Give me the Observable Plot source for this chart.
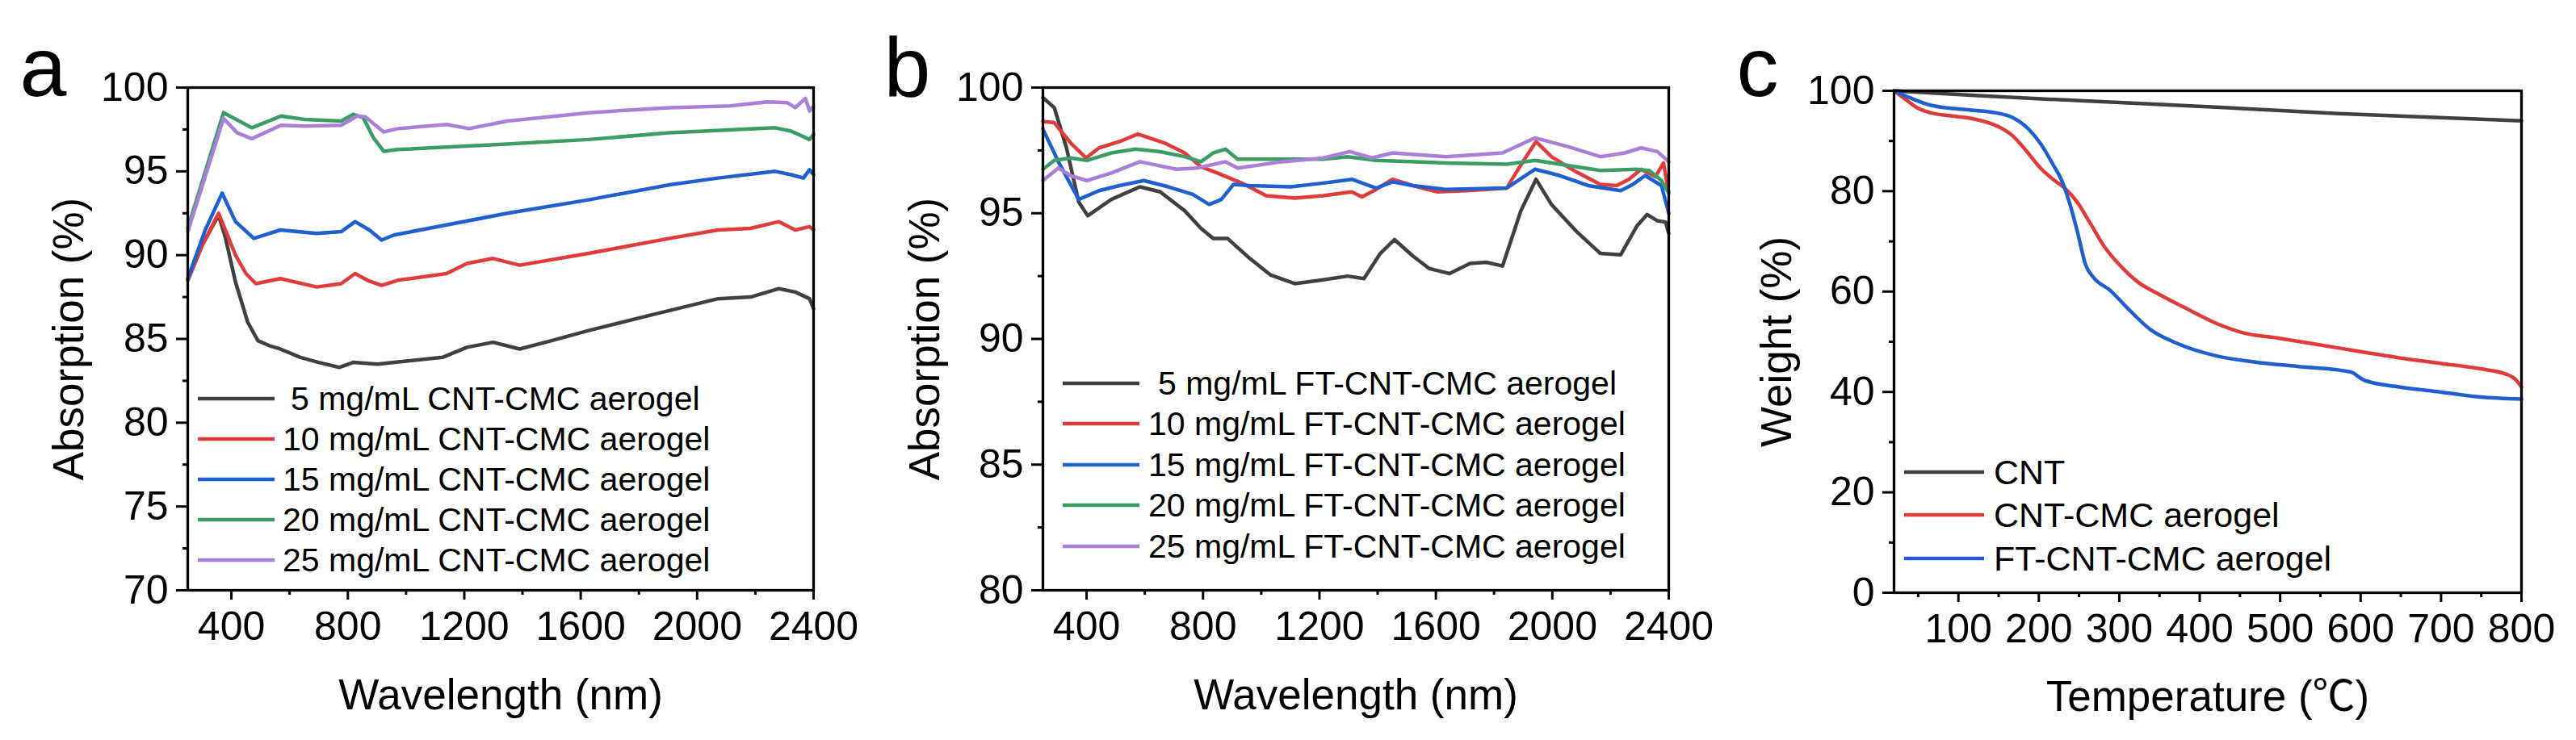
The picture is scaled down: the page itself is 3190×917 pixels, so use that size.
<!DOCTYPE html>
<html>
<head>
<meta charset="utf-8">
<script src="https://cdn.jsdelivr.net/npm/d3@7"></script>
<script src="https://cdn.jsdelivr.net/npm/@observablehq/plot@0.6"></script>
<style>
  body { margin: 0; background: #fff; overflow: hidden; }
  #figure { display: flex; width: 3190px; height: 917px; }
  #figure > svg { flex: none; max-width: none; }
</style>
</head>
<body>
<div id="figure"></div>
<script>
// panel a: CNT-CMC aerogels, [wavelength nm, absorption %]
const aNames = ['5 mg/mL CNT-CMC aerogel', '10 mg/mL CNT-CMC aerogel', '15 mg/mL CNT-CMC aerogel', '20 mg/mL CNT-CMC aerogel', '25 mg/mL CNT-CMC aerogel']
const a5 = [[250,88.5],[300,90.6],[356,92.4],[380,91.0],[414,88.4],[456,86.0],[491,84.9],[530,84.6],[568,84.4],[637,83.9],[700,83.6],[770,83.3],[818,83.6],[902,83.5],[1013,83.7],[1125,83.9],[1209,84.5],[1299,84.8],[1390,84.4],[1500,84.9],[1627,85.5],[1836,86.4],[2072,87.4],[2183,87.5],[2281,88.0],[2337,87.8],[2386,87.4],[2400,86.8]]
const a10 = [[250,88.5],[300,90.6],[356,92.5],[414,90.0],[450,88.9],[484,88.3],[568,88.6],[693,88.1],[777,88.3],[825,88.9],[867,88.5],[916,88.2],[972,88.5],[1139,88.9],[1209,89.5],[1299,89.8],[1390,89.4],[1627,90.1],[1905,91.0],[2072,91.5],[2183,91.6],[2281,92.0],[2337,91.5],[2386,91.7],[2400,91.5]]
const a15 = [[250,88.6],[310,91.5],[368,93.7],[414,92.0],[477,91.0],[568,91.5],[693,91.3],[777,91.4],[825,92.0],[874,91.5],[916,90.9],[958,91.2],[1348,92.5],[1627,93.3],[1905,94.2],[2072,94.6],[2268,95.0],[2323,94.8],[2365,94.6],[2386,95.1],[2400,94.8]]
const a20 = [[250,91.6],[373,98.5],[470,97.6],[570,98.3],[651,98.1],[777,98.0],[818,98.4],[853,98.2],[888,97.0],[923,96.2],[972,96.3],[1320,96.6],[1627,96.9],[1905,97.3],[2268,97.6],[2323,97.4],[2386,96.9],[2400,97.2]]
const a25 = [[250,91.4],[373,98.15],[420,97.3],[470,96.95],[570,97.75],[651,97.7],[777,97.75],[832,98.3],[860,98.25],[923,97.35],[972,97.55],[1139,97.8],[1216,97.55],[1348,98.0],[1627,98.5],[1905,98.8],[2114,98.9],[2240,99.15],[2309,99.1],[2337,98.8],[2372,99.35],[2386,98.6],[2400,98.9]]

// panel b: FT-CNT-CMC aerogels
const bNames = ['5 mg/mL FT-CNT-CMC aerogel', '10 mg/mL FT-CNT-CMC aerogel', '15 mg/mL FT-CNT-CMC aerogel', '20 mg/mL FT-CNT-CMC aerogel', '25 mg/mL FT-CNT-CMC aerogel']
const b5 = [[250,99.6],[289,99.2],[331,97.6],[373,95.45],[404,94.9],[485,95.55],[583,96.05],[653,95.85],[737,95.1],[793,94.4],[835,94.0],[884,94.0],[961,93.2],[1031,92.55],[1115,92.2],[1213,92.35],[1297,92.5],[1353,92.4],[1409,93.4],[1458,93.95],[1521,93.3],[1577,92.8],[1647,92.6],[1717,93.0],[1773,93.05],[1829,92.9],[1892,95.1],[1944,96.35],[1997,95.35],[2081,94.3],[2165,93.4],[2235,93.35],[2291,94.5],[2326,94.95],[2361,94.7],[2389,94.65],[2400,94.2]]
const b10 = [[250,98.65],[289,98.6],[345,97.8],[398,97.2],[443,97.6],[513,97.85],[576,98.15],[667,97.8],[737,97.4],[793,96.85],[849,96.6],[933,96.2],[1017,95.7],[1115,95.6],[1213,95.7],[1311,95.85],[1346,95.65],[1395,95.95],[1451,96.35],[1521,96.1],[1605,95.85],[1703,95.9],[1773,95.95],[1843,96.0],[1899,97.05],[1944,97.85],[1997,97.25],[2081,96.65],[2165,96.15],[2221,96.1],[2263,96.35],[2305,96.75],[2354,96.45],[2382,97.0],[2400,95.8]]
const b15 = [[250,98.35],[303,97.05],[373,95.55],[443,95.9],[513,96.1],[597,96.3],[681,96.05],[765,95.75],[821,95.35],[863,95.55],[905,96.15],[961,96.1],[1101,96.05],[1213,96.2],[1311,96.35],[1395,96.0],[1451,96.25],[1521,96.1],[1633,95.95],[1843,96.0],[1941,96.75],[2025,96.5],[2123,96.1],[2235,95.9],[2277,96.15],[2319,96.5],[2375,96.1],[2400,95.0]]
const b20 = [[250,96.75],[289,97.1],[345,97.2],[401,97.1],[485,97.4],[569,97.55],[653,97.45],[737,97.25],[793,97.05],[835,97.4],[877,97.55],[919,97.15],[1073,97.15],[1213,97.15],[1297,97.25],[1395,97.1],[1633,97.0],[1843,96.95],[1941,97.1],[2053,96.9],[2165,96.7],[2291,96.75],[2333,96.7],[2375,96.3],[2400,95.8]]
const b25 = [[250,96.3],[303,96.8],[345,96.5],[401,96.3],[485,96.6],[583,97.05],[709,96.75],[779,96.8],[877,97.05],[919,96.8],[1073,97.05],[1213,97.2],[1304,97.45],[1381,97.2],[1451,97.4],[1633,97.25],[1829,97.4],[1941,98.0],[2053,97.65],[2165,97.25],[2249,97.4],[2305,97.6],[2361,97.45],[2400,97.05]]

// panel c: TGA, [temperature C, weight %]
const cNames = ['CNT', 'CNT-CMC aerogel', 'FT-CNT-CMC aerogel']
const cCNT = [[20,100],[116,99.1],[268,97.9],[420,96.75],[572,95.45],[724,94.5],[800,94.0]]
const cCMC = [[20,100],[35,98.2],[50,96.5],[66,95.6],[91,95.0],[116,94.5],[136,93.7],[152,92.7],[167,91.1],[182,88.5],[202,84.6],[218,82.3],[233,80.5],[248,77.75],[263,73.85],[283,68.6],[304,64.7],[324,61.8],[349,59.5],[380,56.9],[420,53.7],[456,51.7],[496,50.75],[547,49.45],[597,48.1],[648,46.8],[699,45.7],[749,44.6],[780,43.6],[792,42.6],[800,41.0]]
const cFT = [[20,100],[40,98.6],[66,97.1],[91,96.5],[116,96.15],[147,95.6],[167,94.7],[187,92.4],[202,89.5],[218,85.2],[228,82.3],[238,77.75],[248,71.9],[258,65.4],[268,62.8],[289,60.2],[309,56.9],[339,52.4],[370,49.8],[420,47.2],[471,45.9],[521,45.1],[587,44.0],[605,42.3],[648,41.0],[699,40.0],[749,39.0],[800,38.6]]

const wlTicks = [400, 800, 1200, 1600, 2000, 2400]
const wlMinor = [600, 1000, 1400, 1800, 2200]
const aTicks = [70, 75, 80, 85, 90, 95, 100]
const aMinor = [72.5, 77.5, 82.5, 87.5, 92.5, 97.5]
const bTicks = [80, 85, 90, 95, 100]
const bMinor = [82.5, 87.5, 92.5, 97.5]
const tTicks = [100, 200, 300, 400, 500, 600, 700, 800]
const tMinor = [50, 150, 250, 350, 450, 550, 650, 750]
const wTicks = [0, 20, 40, 60, 80, 100]
const wMinor = [10, 30, 50, 70, 90]

const colors5 = ['#404040', '#e03c3c', '#1f5fcf', '#3a9d66', '#a97fd8']
const fontFamily = '"Liberation Sans", Arial, "Noto Sans CJK SC", sans-serif'

function rows(names, series) {
  return names.flatMap((name, i) => series[i].map(([x, y]) => ({name, x, y})))
}

function panel(o) {
  const data = rows(o.names, o.series)
  const chart = Plot.plot({
    width: o.width,
    height: 917,
    marginTop: o.top,
    marginBottom: 917 - o.bottom,
    marginLeft: o.left,
    marginRight: o.width - o.right,
    style: {fontFamily, fontSize: '50px', color: '#000', background: '#fff', overflow: 'visible'},
    x: {domain: o.xDomain},
    y: {domain: o.yDomain},
    color: {domain: o.names, range: o.colors},
    marks: [
      Plot.line(data, {x: 'x', y: 'y', z: 'name', stroke: 'name', strokeWidth: 4.5, curve: o.curve}),
      Plot.frame({stroke: '#000', strokeWidth: 3.3}),
      Plot.axisX({ticks: o.xTicks, tickSize: 12, tickPadding: 14, tickFormat: d => String(d), strokeWidth: 3, label: null, fontSize: 50}),
      Plot.axisX({ticks: o.xMinor, tickSize: 6, tickFormat: () => '', strokeWidth: 3, label: null}),
      Plot.axisY({ticks: o.yTicks, tickSize: 14, tickPadding: 10, tickFormat: d => String(d), strokeWidth: 3, label: null, fontSize: 50}),
      Plot.axisY({ticks: o.yMinor, tickSize: 6, tickFormat: () => '', strokeWidth: 3, label: null}),
      Plot.text([o.xLabel], {frameAnchor: 'bottom', textAnchor: 'middle', lineAnchor: 'bottom', dy: o.xLabelY - o.bottom, fontSize: 53}),
      Plot.text([o.yLabel], {frameAnchor: 'left', textAnchor: 'middle', lineAnchor: 'bottom', rotate: -90, dx: o.yLabelX - o.left, fontSize: 53}),
      Plot.text([o.letter], {frameAnchor: 'top-left', textAnchor: 'start', lineAnchor: 'bottom', dx: o.letterX - o.left, dy: 118 - o.top, fontSize: 104})
    ]
  })

  // legend inside the frame, lower left
  const g = d3.select(chart).append('g')
    .attr('font-size', o.legendSize)
    .attr('text-anchor', 'start')
  o.names.forEach((name, i) => {
    const y = o.legendY[i]
    g.append('line')
      .attr('x1', o.legendLine[0]).attr('x2', o.legendLine[1])
      .attr('y1', y).attr('y2', y)
      .attr('stroke', o.colors[i]).attr('stroke-width', 4.5)
    g.append('text')
      .attr('x', o.legendTextX[i]).attr('y', y).attr('dy', '0.35em')
      .attr('fill', '#000')
      .text(name)
  })
  return chart
}

const fig = d3.select('#figure')

fig.append(() => panel({
  width: 1064, left: 232, right: 1007, top: 108, bottom: 731,
  xDomain: [250, 2400], yDomain: [70, 100],
  xTicks: wlTicks, xMinor: wlMinor, yTicks: aTicks, yMinor: aMinor,
  names: aNames, series: [a5, a10, a15, a20, a25], colors: colors5, curve: 'linear',
  xLabel: 'Wavelength (nm)', xLabelY: 878, yLabel: 'Absorption (%)', yLabelX: 102,
  letter: 'a', letterX: 24,
  legendSize: 41, legendLine: [245, 340], legendY: [494, 544, 594, 644, 694],
  legendTextX: [360, 350, 350, 350, 350]
}))

fig.append(() => panel({
  width: 1064, left: 227, right: 1002, top: 108, bottom: 731,
  xDomain: [250, 2400], yDomain: [80, 100],
  xTicks: wlTicks, xMinor: wlMinor, yTicks: bTicks, yMinor: bMinor,
  names: bNames, series: [b5, b10, b15, b20, b25], colors: colors5, curve: 'linear',
  xLabel: 'Wavelength (nm)', xLabelY: 878, yLabel: 'Absorption (%)', yLabelX: 98,
  letter: 'b', letterX: 30,
  legendSize: 41, legendLine: [252, 347], legendY: [475, 525, 576, 626, 677],
  legendTextX: [370, 358, 358, 358, 358]
}))

fig.append(() => panel({
  width: 1062, left: 217, right: 994, top: 112, bottom: 734,
  xDomain: [20, 800], yDomain: [0, 100],
  xTicks: tTicks, xMinor: tMinor, yTicks: wTicks, yMinor: wMinor,
  names: cNames, series: [cCNT, cCMC, cFT], colors: colors5.slice(0, 3), curve: 'monotone-x',
  xLabel: 'Temperature (\u2103)', xLabelY: 880, yLabel: 'Weight (%)', yLabelX: 89,
  letter: 'c', letterX: 22,
  legendSize: 43, legendLine: [230, 329], legendY: [585, 638, 692],
  legendTextX: [341, 341, 341]
}))
</script>
</body>
</html>
